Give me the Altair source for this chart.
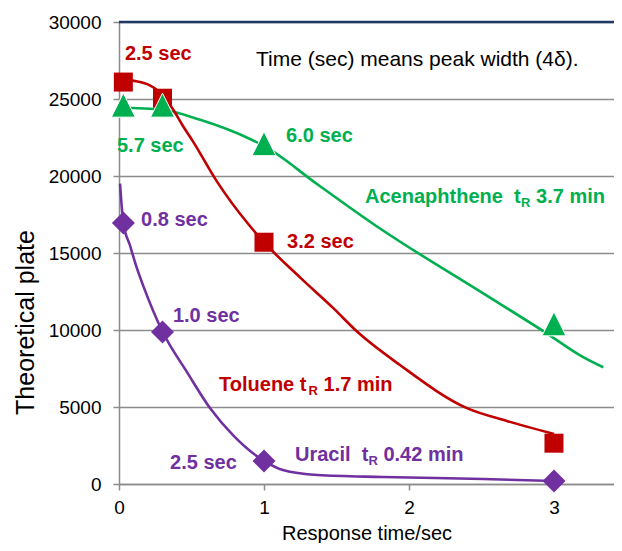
import altair as alt
import pandas as pd

RED = "#C00000"
GREEN = "#00B050"
PURPLE = "#7030A0"
FONT = "Liberation Sans"

# ---- measured points (markers) ----
response_time = [0.03, 0.3, 1, 3]
toluene_plates = [26100, 25050, 15700, 2650]
acenaphthene_plates = [24600, 24600, 22100, 10400]
uracil_plates = [16950, 9870, 1490, 200]

# ---- smoothed trend curves ----
toluene_curve_x = [0.03, 0.12, 0.21, 0.28, 0.37, 0.44, 0.51, 0.676, 0.90, 1.0, 1.25, 1.48, 1.64, 1.94, 2.40, 2.68, 3.0]
toluene_curve_y = [26240, 26150, 25900, 25450, 24365, 23263, 22250, 19634, 16783, 15700, 13400, 11405, 9914, 7711, 4925, 4082, 3250]

acen_curve_x = [0.0, 0.3, 0.56, 0.90, 1.0, 1.37, 1.80, 2.49, 2.95, 3.18, 3.34]
acen_curve_y = [24450, 24300, 23650, 22421, 21950, 19450, 16589, 12506, 9785, 8359, 7582]

uracil_curve_x = [0.007, 0.03, 0.076, 0.124, 0.166, 0.30, 0.47, 0.63, 0.786, 1.0, 1.13, 1.37, 1.82, 2.51, 3.0]
uracil_curve_y = [19500, 16950, 15487, 14000, 12900, 9900, 7250, 4900, 3175, 1500, 907, 583, 454, 324, 194]

y_ticks = [0, 5000, 10000, 15000, 20000, 25000, 30000]
x_ticks = [0, 1, 2, 3]

# ---- annotation texts (anchor in data units) ----
ann_text = ["2.5 sec", "3.2 sec", "5.7 sec", "6.0 sec", "0.8 sec", "1.0 sec", "2.5 sec"]
ann_x = [0.041, 1.159, -0.014, 1.152, 0.152, 0.372, 0.352]
ann_y = [27900, 15746, 21967, 22615, 17172, 10886, 1361]
ann_color = [RED, RED, GREEN, GREEN, PURPLE, PURPLE, PURPLE]

note_text = "Time (sec) means peak width (4δ)."
note_x, note_y = 0.945, 27540

# compound labels with subscript R: (main, after, x, y, color, dx_R, dx_after)
compound = [
    ("Toluene t", "1.7 min", 0.69, 6415, RED, 89.5, 104.5),
    ("Acenaphthene\u00a0\u00a0t", "3.7 min", 1.697, 18662, GREEN, 156.0, 171.0),
    ("Uracil\u00a0\u00a0t", "0.42 min", 1.214, 1879, PURPLE, 73.4, 88.4),
]

xscale = alt.Scale(domain=[0, 3.414], nice=False, zero=False)
yscale = alt.Scale(domain=[0, 30000], nice=False)

x_axis = alt.Axis(values=x_ticks, title="Response time/sec", grid=False,
                  labelFontSize=19, labelColor="black", labelFont=FONT, labelFlush=False,
                  tickSize=6, tickColor="#8C8C8C", tickWidth=1.5,
                  domainColor="#8C8C8C", domainWidth=1.5, labelPadding=8,
                  titleFontSize=20, titleFontWeight="normal", titleColor="black",
                  titleFont=FONT, titlePadding=6)
y_axis = alt.Axis(values=y_ticks, format="d", title="Theoretical plate", grid=True,
                  gridColor="#8C8C8C", gridWidth=1.5,
                  labelFontSize=19, labelColor="black", labelFont=FONT, labelPadding=12,
                  tickSize=6, tickColor="#8C8C8C", tickWidth=1.5,
                  domainColor="#8C8C8C", domainWidth=1.5,
                  titleFontSize=25, titleFontWeight="normal", titleColor="black",
                  titleFont=FONT, titleAngle=270, titleAlign="center",
                  titleBaseline="alphabetic", titleX=-86, titleY=300)


def curve_df(xs, ys):
    return pd.DataFrame({"x": xs, "y": ys})


def xy():
    return dict(x=alt.X("x:Q", scale=xscale, axis=x_axis),
                y=alt.Y("y:Q", scale=yscale, axis=y_axis))


top_rule = alt.Chart(curve_df([0], [30000])).mark_rule(color="#1F3864", strokeWidth=2.5).encode(
    y=alt.Y("y:Q", scale=yscale, axis=y_axis))


def line_layer(xs, ys, color):
    return alt.Chart(curve_df(xs, ys)).mark_line(
        interpolate="monotone", color=color, strokeWidth=2.6
    ).encode(order="x:Q", **xy())


def marker_layer(xs, ys, color, shape, size, stroke=None):
    kw = dict(shape=shape, size=size, filled=True, color=color, opacity=1)
    if stroke:
        kw.update(stroke=stroke, strokeWidth=1)
    return alt.Chart(curve_df(xs, ys)).mark_point(**kw).encode(**xy())


layers = [
    top_rule,
    line_layer(acen_curve_x, acen_curve_y, GREEN),
    line_layer(uracil_curve_x, uracil_curve_y, PURPLE),
    line_layer(toluene_curve_x, toluene_curve_y, RED),
    marker_layer(response_time, toluene_plates, RED, "square", 361),
    marker_layer(response_time, acenaphthene_plates, GREEN, "M0,-1L1,1L-1,1Z", 576, stroke="white"),
    marker_layer(response_time, uracil_plates, PURPLE, "diamond", 529),
]

ann_df = pd.DataFrame({"x": ann_x, "y": ann_y, "text": ann_text, "color": ann_color})
layers.append(
    alt.Chart(ann_df).mark_text(align="left", baseline="middle", font=FONT, fontSize=20, fontWeight="bold").encode(
        text="text:N", color=alt.Color("color:N", scale=None), **xy())
)

layers.append(
    alt.Chart(pd.DataFrame({"x": [note_x], "y": [note_y], "text": [note_text]})).mark_text(
        align="left", baseline="middle", font=FONT, fontSize=21, color="black").encode(
        text="text:N", **xy())
)

for main, after, cx, cy, col, dxr, dxa in compound:
    d = pd.DataFrame({"x": [cx], "y": [cy]})
    layers.append(alt.Chart(d).mark_text(text=main, align="left", baseline="middle", font=FONT,
                                         fontSize=20, fontWeight="bold", color=col).encode(**xy()))
    layers.append(alt.Chart(d).mark_text(text="R", align="left", baseline="middle", font=FONT,
                                         fontSize=13, fontWeight="bold", color=col, dx=dxr, dy=6).encode(**xy()))
    layers.append(alt.Chart(d).mark_text(text=after, align="left", baseline="middle", font=FONT,
                                         fontSize=20, fontWeight="bold", color=col, dx=dxa).encode(**xy()))

chart = alt.layer(*layers).properties(
    width=495, height=462,
    padding={"left": 111, "top": 14, "right": 0, "bottom": 59},
    autosize=alt.AutoSizeParams(type="none"),
).configure_view(stroke=None).configure(background="white")

chart.save("out.html", embed_options={"renderer": "svg", "actions": False})
